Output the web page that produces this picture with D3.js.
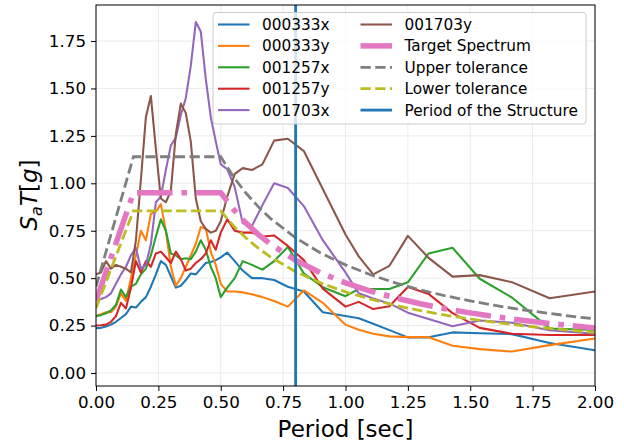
<!DOCTYPE html>
<html><head><meta charset="utf-8">
<script src="https://cdn.jsdelivr.net/npm/d3@7"></script>
<style>body{margin:0;background:#fff} svg{display:block}</style>
</head><body>
<svg id="c" width="624" height="443"></svg>
<script>
// ---- data ----
const periods = [0, 0.02, 0.04, 0.06, 0.08, 0.10, 0.12, 0.14, 0.16, 0.18, 0.20, 0.22, 0.24, 0.26, 0.28, 0.30, 0.32, 0.34, 0.36, 0.38, 0.40, 0.42, 0.44, 0.46, 0.48, 0.50,
  0.526, 0.556, 0.588, 0.625, 0.667, 0.714, 0.769, 0.833, 0.909, 1.0,
  1.053, 1.111, 1.176, 1.25, 1.333, 1.429, 1.538, 1.667, 1.818, 2.0];
const rec000333x = [0.236, 0.238, 0.245, 0.255, 0.27, 0.29, 0.31, 0.35, 0.345, 0.375, 0.40, 0.455, 0.52, 0.59, 0.57, 0.51, 0.45, 0.46, 0.49, 0.525, 0.52, 0.55, 0.58, 0.585, 0.595, 0.61,
  0.635, 0.59, 0.54, 0.50, 0.50, 0.49, 0.455, 0.43, 0.32, 0.30,
  0.289, 0.26, 0.226, 0.188, 0.188, 0.214, 0.21, 0.205, 0.158, 0.12];
const rec000333y = [0.30, 0.31, 0.32, 0.32, 0.35, 0.42, 0.38, 0.50, 0.62, 0.75, 0.70, 0.84, 0.85, 0.89, 0.75, 0.56, 0.46, 0.50, 0.56, 0.62, 0.68, 0.77, 0.76, 0.64, 0.57, 0.47,
  0.43, 0.43, 0.425, 0.415, 0.40, 0.38, 0.35, 0.435, 0.37, 0.255,
  0.228, 0.207, 0.193, 0.189, 0.189, 0.144, 0.126, 0.113, 0.147, 0.182];
const rec001257x = [0.30, 0.305, 0.315, 0.33, 0.36, 0.44, 0.40, 0.455, 0.47, 0.52, 0.55, 0.62, 0.72, 0.81, 0.75, 0.63, 0.62, 0.60, 0.605, 0.60, 0.64, 0.70, 0.65, 0.56, 0.50, 0.40,
  0.45, 0.50, 0.59, 0.57, 0.545, 0.59, 0.665, 0.525, 0.452, 0.405,
  0.443, 0.443, 0.443, 0.478, 0.63, 0.66, 0.497, 0.398, 0.235, 0.227];
const rec001257y = [0.25, 0.252, 0.255, 0.27, 0.30, 0.37, 0.34, 0.45, 0.59, 0.53, 0.59, 0.56, 0.63, 0.64, 0.61, 0.58, 0.64, 0.60, 0.54, 0.55, 0.58, 0.60, 0.63, 0.70, 0.65, 0.74,
  0.81, 0.75, 0.74, 0.74, 0.72, 0.725, 0.67, 0.595, 0.445, 0.35,
  0.375, 0.337, 0.352, 0.453, 0.417, 0.316, 0.238, 0.207, 0.20, 0.20];
const rec001703x = [0.385, 0.39, 0.40, 0.42, 0.47, 0.52, 0.56, 0.62, 0.66, 0.55, 0.57, 0.68, 0.90, 0.93, 1.07, 1.20, 1.24, 1.36, 1.45, 1.62, 1.85, 1.80, 1.55, 1.35, 1.22, 1.10,
  1.075, 0.98, 0.79, 0.775, 0.885, 1.00, 0.975, 0.88, 0.70, 0.53,
  0.42, 0.393, 0.367, 0.318, 0.285, 0.247, 0.277, 0.265, 0.225, 0.207];
const rec001703y = [0.52, 0.53, 0.59, 0.55, 0.57, 0.56, 0.55, 0.53, 0.70, 1.02, 1.35, 1.46, 1.18, 0.92, 0.90, 0.96, 1.26, 1.42, 1.37, 1.22, 0.92, 0.80, 0.76, 0.74, 0.75, 0.80,
  0.93, 1.05, 1.08, 1.07, 1.10, 1.225, 1.235, 1.17, 0.97, 0.73,
  0.615, 0.52, 0.565, 0.723, 0.607, 0.508, 0.516, 0.479, 0.394, 0.43];

const targetPeriods = [0, 0.15, 0.5, 0.55, 0.6, 0.65, 0.7, 0.8, 0.9, 1.0, 1.1, 1.2, 1.3, 1.4, 1.5, 1.6, 1.7, 1.8, 1.9, 2.0];
const targetValues  = [0.38, 0.95, 0.95, 0.864, 0.792, 0.731, 0.679, 0.594, 0.528, 0.475, 0.432, 0.396, 0.365, 0.339, 0.317, 0.297, 0.279, 0.264, 0.25, 0.2375];
const upperValues   = [0.456, 1.14, 1.14, 1.036, 0.95, 0.877, 0.814, 0.713, 0.633, 0.57, 0.518, 0.475, 0.438, 0.407, 0.38, 0.356, 0.335, 0.317, 0.30, 0.285];
const lowerValues   = [0.342, 0.855, 0.855, 0.777, 0.713, 0.658, 0.611, 0.534, 0.475, 0.4275, 0.389, 0.356, 0.329, 0.305, 0.285, 0.267, 0.251, 0.2375, 0.225, 0.214];
const structurePeriod = 0.8;

const xTicks = [0, 0.25, 0.5, 0.75, 1.0, 1.25, 1.5, 1.75, 2.0];
const yTicks = [0, 0.25, 0.5, 0.75, 1.0, 1.25, 1.5, 1.75];

// ---- series definitions ----
const records = [
  {name: "000333x", values: rec000333x, color: "#1f77b4"},
  {name: "000333y", values: rec000333y, color: "#ff7f0e"},
  {name: "001257x", values: rec001257x, color: "#2ca02c"},
  {name: "001257y", values: rec001257y, color: "#d62728"},
  {name: "001703x", values: rec001703x, color: "#9467bd"},
  {name: "001703y", values: rec001703y, color: "#8c564b"}
];
const recW = 2.08;
const refs = [
  {name: "Target Spectrum", values: targetValues, color: "#e377c2", width: 5.5, dash: "35.6,8.9,5.6,8.9"},
  {name: "Upper tolerance", values: upperValues, color: "#7f7f7f", width: 2.8, dash: "10.3,4.4"},
  {name: "Lower tolerance", values: lowerValues, color: "#bcbd22", width: 2.8, dash: "10.3,4.4"}
];

const FONT = "DejaVu Sans, sans-serif";
const svg = d3.select("#c");
const m = {left: 96, right: 595, top: 5, bottom: 386};
const x = d3.scaleLinear().domain([0, 2]).range([m.left, m.right]);
const y = d3.scaleLinear().domain([-0.0685, 1.94]).range([m.bottom, m.top]);

svg.append("defs").append("clipPath").attr("id", "clip")
  .append("rect").attr("x", m.left).attr("y", m.top)
  .attr("width", m.right - m.left).attr("height", m.bottom - m.top);

// grid
const grid = svg.append("g");
grid.selectAll(".gx").data(xTicks).join("line")
  .attr("x1", d => x(d)).attr("x2", d => x(d)).attr("y1", m.top).attr("y2", m.bottom)
  .attr("stroke", "#ebebeb").attr("stroke-width", 1);
grid.selectAll(".gy").data(yTicks).join("line")
  .attr("y1", d => y(d)).attr("y2", d => y(d)).attr("x1", m.left).attr("x2", m.right)
  .attr("stroke", "#ebebeb").attr("stroke-width", 1);

const plot = svg.append("g").attr("clip-path", "url(#clip)");
const line = d3.line().x(d => x(d[0])).y(d => y(d[1]));

records.forEach(r => {
  plot.append("path").datum(periods.map((p, i) => [p, r.values[i]]))
    .attr("d", line).attr("fill", "none").attr("stroke", r.color)
    .attr("stroke-width", recW).attr("stroke-linejoin", "round");
});
refs.forEach(r => {
  plot.append("path").datum(targetPeriods.map((p, i) => [p, r.values[i]]))
    .attr("d", line).attr("fill", "none").attr("stroke", r.color)
    .attr("stroke-width", r.width).attr("stroke-dasharray", r.dash);
});
plot.append("line").attr("x1", x(structurePeriod)).attr("x2", x(structurePeriod))
  .attr("y1", m.top).attr("y2", m.bottom).attr("stroke", "#1f77b4").attr("stroke-width", 2.8);

// axes
const xAxis = svg.append("g").attr("transform", `translate(0,${m.bottom})`)
  .call(d3.axisBottom(x).tickValues(xTicks).tickFormat(d3.format(".2f")).tickSize(5).tickPadding(5).tickSizeOuter(0));
const yAxis = svg.append("g").attr("transform", `translate(${m.left},0)`)
  .call(d3.axisLeft(y).tickValues(yTicks).tickFormat(d3.format(".2f")).tickSize(5).tickPadding(5).tickSizeOuter(0));
[xAxis, yAxis].forEach(a => {
  a.select(".domain").remove();
  a.selectAll("line").attr("stroke", "#000").attr("stroke-width", 1);
  a.selectAll("text").attr("font-family", FONT).attr("font-size", 16.7).attr("fill", "#000");
});

// frame
svg.append("rect").attr("x", m.left).attr("y", m.top)
  .attr("width", m.right - m.left).attr("height", m.bottom - m.top)
  .attr("fill", "none").attr("stroke", "#000").attr("stroke-width", 1);

// axis labels
svg.append("text").attr("x", (m.left + m.right) / 2).attr("y", 437)
  .attr("text-anchor", "middle").attr("font-family", FONT).attr("font-size", 23)
  .text("Period [sec]");
const yl = svg.append("text").attr("transform", "translate(37,195) rotate(-90)")
  .attr("text-anchor", "middle").attr("font-family", FONT).attr("font-size", 23);
yl.append("tspan").attr("font-style", "italic").text("S");
yl.append("tspan").attr("font-style", "italic").attr("font-size", 16).attr("dy", 5).text("a");
yl.append("tspan").attr("font-style", "italic").attr("dy", -5).text("T");
yl.append("tspan").text("[");
yl.append("tspan").attr("font-style", "italic").text("g");
yl.append("tspan").text("]");

// legend
const lg = svg.append("g");
lg.append("rect").attr("x", 213).attr("y", 12.5).attr("width", 373).attr("height", 111.5)
  .attr("rx", 3).attr("fill", "#fff").attr("fill-opacity", 0.8).attr("stroke", "#cccccc").attr("stroke-width", 1);
const items = records.map(r => ({name: r.name, color: r.color, width: recW, dash: null}))
  .concat(refs.map(r => ({name: r.name, color: r.color, width: r.width, dash: r.dash})))
  .concat([{name: "Period of the Structure", color: "#1f77b4", width: 2.8, dash: null}]);
items.forEach((it, i) => {
  const col = Math.floor(i / 5), row = i % 5;
  const hx = col === 0 ? 218 : 360.5;
  const ty = 24.5 + row * 21.4;
  lg.append("line").attr("x1", hx).attr("x2", hx + 31.5).attr("y1", ty).attr("y2", ty)
    .attr("stroke", it.color).attr("stroke-width", it.width)
    .attr("stroke-dasharray", it.dash);
  lg.append("text").attr("x", hx + 44).attr("y", ty).attr("dy", "0.36em")
    .attr("font-family", FONT).attr("font-size", 15.3).attr("fill", "#000").text(it.name);
});
</script>
</body></html>
